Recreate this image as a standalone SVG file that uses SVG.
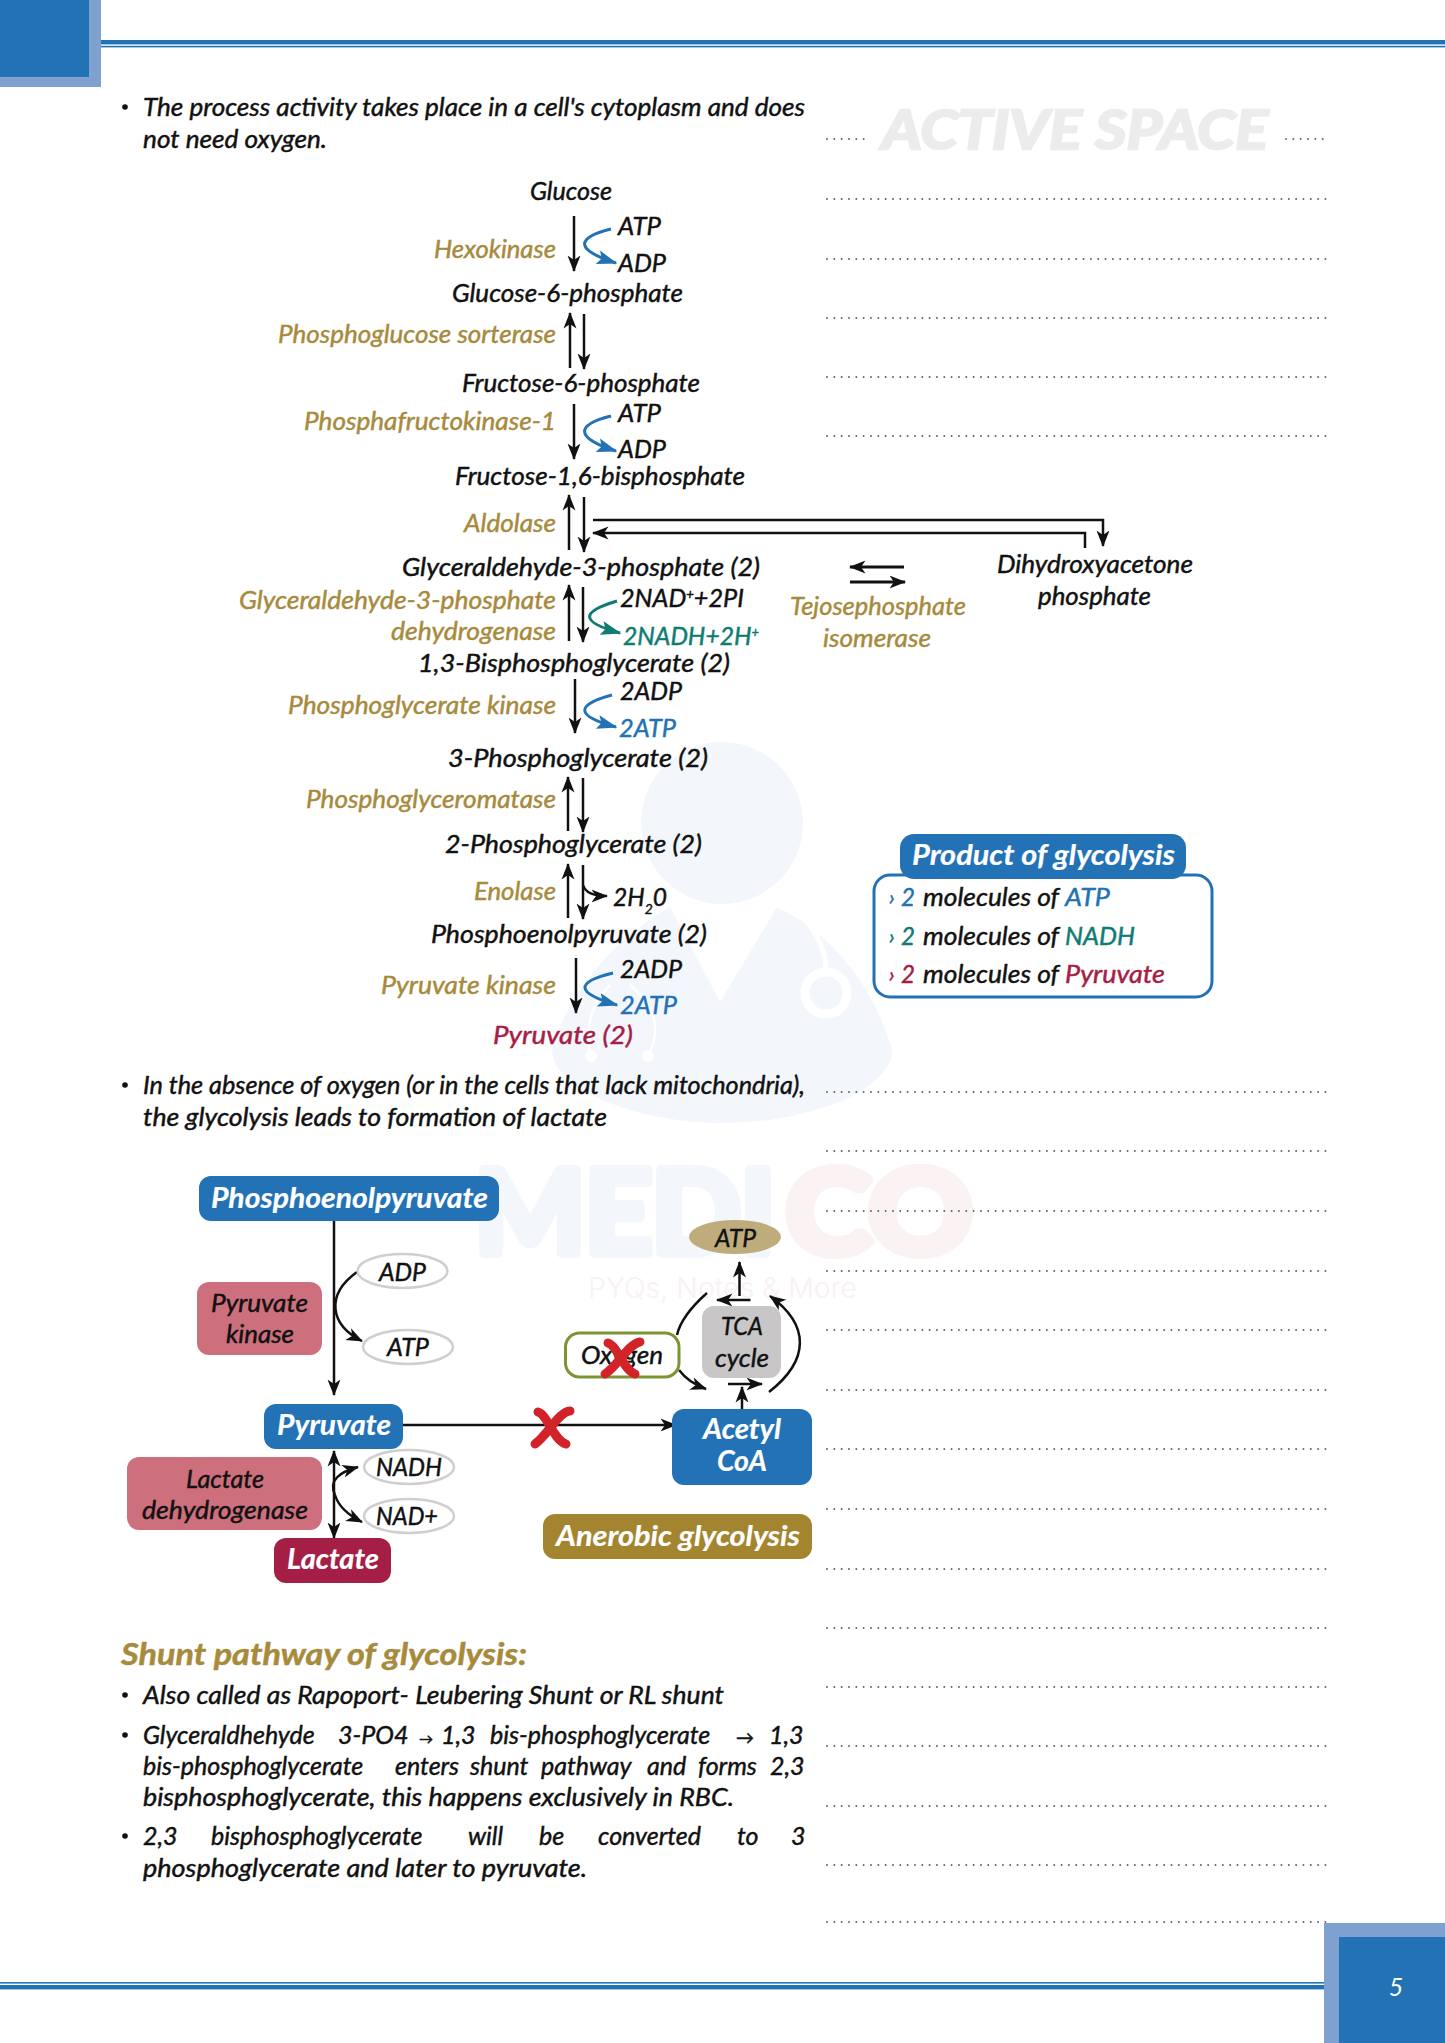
<svg xmlns="http://www.w3.org/2000/svg" width="1445" height="2043" viewBox="0 0 1445 2043">
<style>
text{font-family:"Lato","Open Sans","Liberation Sans",sans-serif;font-style:italic;font-size:25px;fill:#111;stroke:#111;stroke-width:.45px;transform:translateY(1px)}
.g{fill:#a78a3c;stroke:#a78a3c}
.b{fill:#2272b5;stroke:#2272b5}
.te{fill:#0f7c73;stroke:#0f7c73}
.c{fill:#a51e45;stroke:#a51e45}
.w{fill:#fff;stroke:#fff;font-weight:700;font-size:28px;stroke-width:.2px}
.m{text-anchor:middle}
.h{fill:#a78a3c;stroke:#a78a3c;font-weight:700;font-size:31px}
.dot{stroke:#666;stroke-width:2;stroke-linecap:round;stroke-dasharray:0 7.33;fill:none}
.ln{fill:none;stroke:#111;stroke-width:2.5}
.a{marker-end:url(#ah)}
.ab{fill:none;stroke:#2272b5;stroke-width:3;marker-end:url(#ahb)}
.at{fill:none;stroke:#0f7c73;stroke-width:3;marker-end:url(#aht)}
.blue{fill:#2272b5}
.pink{fill:#cd6f7d}
.oval{fill:#fff;stroke:#cfcfcf;stroke-width:2.5}
.x{fill:none;stroke:#d2232a;stroke-width:9;stroke-linecap:round}
.wm{font-style:normal}
</style>
<defs>
<marker id="ah" markerUnits="userSpaceOnUse" markerWidth="17" markerHeight="15" viewBox="0 0 17 15" refX="15.5" refY="7.5" orient="auto"><path d="M0,1 L16.5,7.5 L0,14 L4.5,7.5z" fill="#111"/></marker>
<marker id="ahr" markerUnits="userSpaceOnUse" markerWidth="17" markerHeight="15" viewBox="0 0 17 15" refX="1.5" refY="7.5" orient="auto"><path d="M17,1 L0.500,7.5 L17,14 L12.5,7.5z" fill="#111"/></marker>
<marker id="ahb" markerUnits="userSpaceOnUse" markerWidth="21" markerHeight="15" viewBox="0 0 21 15" refX="19" refY="7.5" orient="auto"><path d="M0,0.5 L20.5,7.5 L0,14.5 L4,7.5z" fill="#2272b5"/></marker>
<marker id="aht" markerUnits="userSpaceOnUse" markerWidth="21" markerHeight="15" viewBox="0 0 21 15" refX="19" refY="7.5" orient="auto"><path d="M0,0.5 L20.5,7.5 L0,14.5 L4,7.5z" fill="#0f7c73"/></marker>
</defs>
<rect width="1445" height="2043" fill="#fff"/>

<g id="watermark">
<ellipse cx="722" cy="823" rx="81" ry="81" fill="#f3f7fb"/>
<path d="M670,907 C610,940 565,1000 552,1050 C552,1090 640,1123 722,1123 C810,1123 892,1090 892,1050 C875,990 835,935 777,907 L720,1002Z" fill="#f3f7fb"/>
<circle cx="826" cy="993" r="21" fill="#f3f7fb" stroke="#fff" stroke-width="9"/>
<path d="M803,917 C818,935 825,950 826,968" fill="none" stroke="#fff" stroke-width="5"/>
<path d="M610,985 C590,1005 585,1030 590,1056 M630,985 C655,1005 662,1030 648,1056" fill="none" stroke="#fff" stroke-width="2.500"/>
<circle cx="591" cy="1056" r="6" fill="#fff"/><circle cx="648" cy="1056" r="6" fill="#fff"/>
<text class="wm" x="475" y="1252" textLength="300" lengthAdjust="spacingAndGlyphs" style="fill:#f3f7fb;stroke:#f3f7fb;stroke-width:10px;stroke-linejoin:round;font-size:114px;font-weight:700">MEDI</text>
<text class="wm" x="786" y="1252" textLength="186" lengthAdjust="spacingAndGlyphs" style="fill:#fbf2f3;stroke:#fbf2f3;stroke-width:10px;stroke-linejoin:round;font-size:114px;font-weight:700">CO</text>
<text class="wm" x="588" y="1297" textLength="269" lengthAdjust="spacingAndGlyphs" style="fill:#f9f1f2;stroke:none;font-size:28px;font-family:Inter,sans-serif;font-weight:300">PYQs, Notes &amp; More</text>
<text class="wm" x="882" y="148" textLength="386" lengthAdjust="spacingAndGlyphs" style="fill:#ececec;stroke:#ececec;stroke-width:2.500px;font-family:Lato,sans-serif;font-style:italic;font-size:54px;font-weight:700">ACTIVE SPACE</text>
</g>

<g id="page-frame">
<rect x="0" y="0" width="101" height="87" fill="#7ea1cf"/>
<rect x="0" y="0" width="89" height="77" class="blue"/>
<rect x="101" y="40" width="1344" height="4.4" class="blue"/>
<rect x="101" y="45.8" width="1344" height="1.6" class="blue"/>
<rect x="0" y="1982" width="1324" height="1.6" class="blue"/>
<rect x="0" y="1985" width="1324" height="4.4" class="blue"/>
<rect x="1324" y="1923" width="121" height="120" fill="#7ea1cf"/>
<rect x="1339" y="1937" width="106" height="106" class="blue"/>
<text class="w m" x="1396" y="1995" style="font-weight:400;font-size:25px;stroke:none">5</text>
</g>

<g id="dotted-lines">
<path class="dot" d="M827,139H867M1286,139H1327M827,199H1327M827,259H1327M827,318H1327M827,377H1327M827,436H1327"/>
<path class="dot" d="M827,1092H1327M827,1151H1327M827,1211H1327M827,1271H1327M827,1330H1327M827,1390H1327M827,1449H1327M827,1509H1327M827,1569H1327M827,1628H1327M827,1687H1327M827,1746H1327M827,1806H1327M827,1865H1327M827,1922H1327"/>
</g>

<g id="bullets-top">
<circle cx="125" cy="107" r="2.8" fill="#111"/>
<text x="143" y="115" textLength="662" lengthAdjust="spacingAndGlyphs">The process activity takes place in a cell's cytoplasm and does</text>
<text x="143" y="147" textLength="184" lengthAdjust="spacingAndGlyphs">not need oxygen.</text>
<circle cx="125" cy="1085" r="2.8" fill="#111"/>
<text x="143" y="1093" textLength="662" lengthAdjust="spacingAndGlyphs">In the absence of oxygen (or in the cells that lack mitochondria),</text>
<text x="143" y="1125" textLength="464" lengthAdjust="spacingAndGlyphs">the glycolysis leads to formation of lactate</text>
</g>

<g id="connectors">
<path class="ln a" d="M574,216V271"/>
<path class="ab" d="M611,229C575,238 575,250 616,263"/>
<path class="ln a" d="M570,368V313"/><path class="ln a" d="M584,314V369"/>
<path class="ln a" d="M574,404V459"/>
<path class="ab" d="M611,416C575,425 575,438 616,451"/>
<path class="ln a" d="M569,550V495"/><path class="ln a" d="M584,497V552"/>
<path class="ln a" d="M593,520H1103V546"/>
<path class="ln a" d="M1085,548V533H593"/>
<path class="ln a" style="stroke-width:3" d="M904,567H850"/>
<path class="ln a" style="stroke-width:3" d="M850,582H905"/>
<path class="ln a" d="M569,641V585"/><path class="ln a" d="M583,587V642"/>
<path class="at" d="M617,601C580,612 580,622 620,633"/>
<path class="ln a" d="M575,679V733"/>
<path class="ab" d="M612,695C575,705 575,716 616,727"/>
<path class="ln a" d="M568,831V777"/><path class="ln a" d="M583,778V832"/>
<path class="ln a" d="M568,918V864"/><path class="ln a" d="M583,865V919"/>
<path class="ln a" d="M583,885C585,892 592,896 607,896"/>
<path class="ln a" d="M576,958V1013"/>
<path class="ab" d="M613,973C575,982 575,993 617,1005"/>

<path class="ln a" d="M334,1221V1395"/>
<path class="ln a" d="M357,1272C325,1295 330,1325 362,1341"/>
<path class="ln a" style="marker-start:url(#ahr)" d="M334,1451V1538"/>
<path class="ln a" d="M335,1495C328,1480 340,1472 358,1467"/>
<path class="ln a" d="M335,1495C338,1505 348,1515 362,1522"/>
<path class="ln a" d="M403,1425H676"/>
<path class="ln a" d="M739.5,1296V1262"/>
<path class="ln a" d="M750.5,1300H717"/>
<path class="ln a" d="M742,1409V1387"/>
<path class="ln a" d="M728,1384H762"/>
<path class="ln" d="M707,1293C690,1308 680,1322 677,1335"/>
<path class="ln a" d="M679,1370C685,1378 695,1385 706,1389"/>
<path class="ln a" d="M769,1392C810,1360 810,1325 770,1296"/>
</g>

<g id="glycolysis-labels">
<text x="530" y="199" textLength="82" lengthAdjust="spacingAndGlyphs">Glucose</text>
<text x="618" y="234" textLength="43" lengthAdjust="spacingAndGlyphs">ATP</text>
<text x="618" y="271" textLength="48" lengthAdjust="spacingAndGlyphs">ADP</text>
<text class="g" x="434" y="257" textLength="122" lengthAdjust="spacingAndGlyphs">Hexokinase</text>
<text x="452" y="301" textLength="231" lengthAdjust="spacingAndGlyphs">Glucose-6-phosphate</text>
<text class="g" x="278" y="342" textLength="278" lengthAdjust="spacingAndGlyphs">Phosphoglucose sorterase</text>
<text x="462" y="391" textLength="238" lengthAdjust="spacingAndGlyphs">Fructose-6-phosphate</text>
<text class="g" x="304" y="429" textLength="252" lengthAdjust="spacingAndGlyphs">Phosphafructokinase-1</text>
<text x="618" y="421" textLength="43" lengthAdjust="spacingAndGlyphs">ATP</text>
<text x="618" y="457" textLength="48" lengthAdjust="spacingAndGlyphs">ADP</text>
<text x="455" y="484" textLength="290" lengthAdjust="spacingAndGlyphs">Fructose-1,6-bisphosphate</text>
<text class="g" x="464" y="531" textLength="92" lengthAdjust="spacingAndGlyphs">Aldolase</text>
<text x="402" y="575" textLength="358" lengthAdjust="spacingAndGlyphs">Glyceraldehyde-3-phosphate (2)</text>
<text x="997" y="572" textLength="196" lengthAdjust="spacingAndGlyphs">Dihydroxyacetone</text>
<text x="1038" y="604" textLength="113" lengthAdjust="spacingAndGlyphs">phosphate</text>
<text class="g" x="790" y="614" textLength="176" lengthAdjust="spacingAndGlyphs">Tejosephosphate</text>
<text class="g" x="823" y="646" textLength="108" lengthAdjust="spacingAndGlyphs">isomerase</text>
<text class="g" x="239" y="608" textLength="317" lengthAdjust="spacingAndGlyphs">Glyceraldehyde-3-phosphate</text>
<text class="g" x="391" y="639" textLength="165" lengthAdjust="spacingAndGlyphs">dehydrogenase</text>
<text x="620" y="606" textLength="124" lengthAdjust="spacingAndGlyphs">2NAD<tspan dy="-8" style="font-size:13px">+</tspan><tspan dy="8">+2PI</tspan></text>
<text class="te" x="623" y="644" textLength="136" lengthAdjust="spacingAndGlyphs">2NADH+2H<tspan dy="-8" style="font-size:13px">+</tspan></text>
<text x="418" y="671" textLength="312" lengthAdjust="spacingAndGlyphs">1,3-Bisphosphoglycerate (2)</text>
<text class="g" x="288" y="713" textLength="268" lengthAdjust="spacingAndGlyphs">Phosphoglycerate kinase</text>
<text x="620" y="699" textLength="62" lengthAdjust="spacingAndGlyphs">2ADP</text>
<text class="b" x="619" y="736" textLength="57" lengthAdjust="spacingAndGlyphs">2ATP</text>
<text x="448" y="766" textLength="260" lengthAdjust="spacingAndGlyphs">3-Phosphoglycerate (2)</text>
<text class="g" x="306" y="807" textLength="250" lengthAdjust="spacingAndGlyphs">Phosphoglyceromatase</text>
<text x="445" y="852" textLength="257" lengthAdjust="spacingAndGlyphs">2-Phosphoglycerate (2)</text>
<text class="g" x="474" y="899" textLength="82" lengthAdjust="spacingAndGlyphs">Enolase</text>
<text x="613" y="905" textLength="54" lengthAdjust="spacingAndGlyphs">2H<tspan dy="8" style="font-size:14px">2</tspan><tspan dy="-8">0</tspan></text>
<text x="431" y="942" textLength="276" lengthAdjust="spacingAndGlyphs">Phosphoenolpyruvate (2)</text>
<text class="g" x="381" y="993" textLength="175" lengthAdjust="spacingAndGlyphs">Pyruvate kinase</text>
<text x="620" y="977" textLength="62" lengthAdjust="spacingAndGlyphs">2ADP</text>
<text class="b" x="620" y="1013" textLength="57" lengthAdjust="spacingAndGlyphs">2ATP</text>
<text class="c" x="493" y="1043" textLength="140" lengthAdjust="spacingAndGlyphs">Pyruvate (2)</text>
</g>

<g id="node-product-of-glycolysis">
<rect x="874" y="875" width="338" height="122" rx="16" fill="#fff" stroke="#2272b5" stroke-width="3"/>
<rect x="900" y="834" width="286" height="45" rx="14" class="blue"/>
<text class="w" x="912" y="864" textLength="263" lengthAdjust="spacingAndGlyphs">Product of glycolysis</text>
<text class="b" x="889" y="904" style="font-size:22px">›</text><text class="b" x="901" y="905" textLength="14" lengthAdjust="spacingAndGlyphs">2</text><text x="923" y="905" textLength="136" lengthAdjust="spacingAndGlyphs">molecules of</text><text class="b" x="1065" y="905" textLength="45" lengthAdjust="spacingAndGlyphs">ATP</text>
<text class="te" x="889" y="943" style="font-size:22px">›</text><text class="te" x="901" y="944" textLength="14" lengthAdjust="spacingAndGlyphs">2</text><text x="923" y="944" textLength="136" lengthAdjust="spacingAndGlyphs">molecules of</text><text class="te" x="1065" y="944" textLength="70" lengthAdjust="spacingAndGlyphs">NADH</text>
<text class="c" x="889" y="981" style="font-size:22px">›</text><text class="c" x="901" y="982" textLength="14" lengthAdjust="spacingAndGlyphs">2</text><text x="923" y="982" textLength="136" lengthAdjust="spacingAndGlyphs">molecules of</text><text class="c" x="1065" y="982" textLength="100" lengthAdjust="spacingAndGlyphs">Pyruvate</text>
</g>

<g id="node-phosphoenolpyruvate"><rect x="199" y="1176" width="300" height="45" rx="12" class="blue"/><text class="w" x="211" y="1207" textLength="277" lengthAdjust="spacingAndGlyphs">Phosphoenolpyruvate</text></g>
<g id="node-adp"><ellipse cx="402.500" cy="1271" rx="45" ry="17" class="oval"/><text x="379" y="1280" textLength="47" lengthAdjust="spacingAndGlyphs">ADP</text></g>
<g id="node-atp-1"><ellipse cx="408" cy="1347" rx="45" ry="17" class="oval"/><text x="387" y="1355" textLength="42" lengthAdjust="spacingAndGlyphs">ATP</text></g>
<g id="node-pyruvate-kinase"><rect x="197" y="1282" width="125" height="73" rx="12" class="pink"/><text x="211" y="1311" textLength="97" lengthAdjust="spacingAndGlyphs">Pyruvate</text><text x="226" y="1342" textLength="68" lengthAdjust="spacingAndGlyphs">kinase</text></g>
<g id="node-pyruvate"><rect x="264" y="1404" width="139" height="45" rx="12" class="blue"/><text class="w" x="277" y="1434" textLength="114" lengthAdjust="spacingAndGlyphs">Pyruvate</text></g>
<g id="node-acetyl-coa"><rect x="672" y="1409" width="140" height="76" rx="12" class="blue"/><text class="w" x="703" y="1438" textLength="78" lengthAdjust="spacingAndGlyphs">Acetyl</text><text class="w" x="717" y="1470" textLength="50" lengthAdjust="spacingAndGlyphs">CoA</text></g>
<g id="node-lactate-dehydrogenase"><rect x="127" y="1457" width="195" height="73" rx="12" class="pink"/><text x="186" y="1487" textLength="78" lengthAdjust="spacingAndGlyphs">Lactate</text><text x="142" y="1518" textLength="166" lengthAdjust="spacingAndGlyphs">dehydrogenase</text></g>
<g id="node-nadh"><ellipse cx="409" cy="1467" rx="45" ry="17" class="oval"/><text x="376" y="1475" textLength="66" lengthAdjust="spacingAndGlyphs">NADH</text></g>
<g id="node-nadplus"><ellipse cx="409" cy="1516" rx="45" ry="17" class="oval"/><text x="376" y="1524" textLength="62" lengthAdjust="spacingAndGlyphs">NAD+</text></g>
<g id="node-lactate"><rect x="274" y="1538" width="117" height="45" rx="12" fill="#a51e45"/><text class="w" x="287" y="1568" textLength="92" lengthAdjust="spacingAndGlyphs">Lactate</text></g>
<g id="node-anerobic"><rect x="543" y="1514" width="269" height="45" rx="12" fill="#a4852f"/><text class="w" x="556" y="1545" textLength="244" lengthAdjust="spacingAndGlyphs">Anerobic glycolysis</text></g>
<g id="node-oxygen"><rect x="565.500" y="1333" width="113.500" height="44" rx="14" fill="#fff" stroke="#7d9435" stroke-width="3"/><text x="581" y="1363" textLength="82" lengthAdjust="spacingAndGlyphs">Oxygen</text></g>
<g id="node-tca"><rect x="702" y="1306" width="79" height="72" rx="12" fill="#c8c6c7"/><text x="721" y="1334" textLength="42" lengthAdjust="spacingAndGlyphs">TCA</text><text x="715" y="1366" textLength="54" lengthAdjust="spacingAndGlyphs">cycle</text></g>
<g id="node-atp-2"><ellipse cx="735" cy="1237" rx="46" ry="17" fill="#bfac7d"/><text x="715" y="1246" textLength="41" lengthAdjust="spacingAndGlyphs">ATP</text></g>

<g id="blocked-marks">
<path class="x" d="M538,1412C548,1415 553,1440 566,1444M570,1411C558,1412 548,1435 535,1444"/>
<path class="x" d="M608,1343C618,1346 623,1370 635,1374M640,1342C628,1344 618,1366 605,1374"/>
</g>

<g id="shunt">
<text class="h" x="121" y="1664" textLength="406" lengthAdjust="spacingAndGlyphs">Shunt pathway of glycolysis:</text>
<circle cx="125" cy="1695" r="2.800" fill="#111"/>
<text x="143" y="1703" textLength="581" lengthAdjust="spacingAndGlyphs">Also called as Rapoport- Leubering Shunt or RL shunt</text>
<circle cx="125" cy="1735" r="2.800" fill="#111"/>
<text y="1743"><tspan x="143">Glyceraldhehyde</tspan> <tspan x="338">3-PO4</tspan> <tspan x="419" style="font-size:14px">→</tspan> <tspan x="441">1,3</tspan> <tspan x="490">bis-phosphoglycerate</tspan> <tspan x="736" style="font-size:18px">→</tspan> <tspan x="769">1,3</tspan></text>
<text y="1774"><tspan x="143">bis-phosphoglycerate</tspan> <tspan x="395">enters</tspan> <tspan x="470">shunt</tspan> <tspan x="541">pathway</tspan> <tspan x="647">and</tspan> <tspan x="698">forms</tspan> <tspan x="770">2,3</tspan></text>
<text x="143" y="1805" textLength="591" lengthAdjust="spacingAndGlyphs">bisphosphoglycerate, this happens exclusively in  RBC.</text>
<circle cx="125" cy="1836" r="2.800" fill="#111"/>
<text y="1844"><tspan x="143">2,3</tspan> <tspan x="211">bisphosphoglycerate</tspan> <tspan x="468">will</tspan> <tspan x="539">be</tspan> <tspan x="598">converted</tspan> <tspan x="737">to</tspan> <tspan x="791">3</tspan></text>
<text x="143" y="1876" textLength="444" lengthAdjust="spacingAndGlyphs">phosphoglycerate and later to  pyruvate.</text>
</g>
</svg>
